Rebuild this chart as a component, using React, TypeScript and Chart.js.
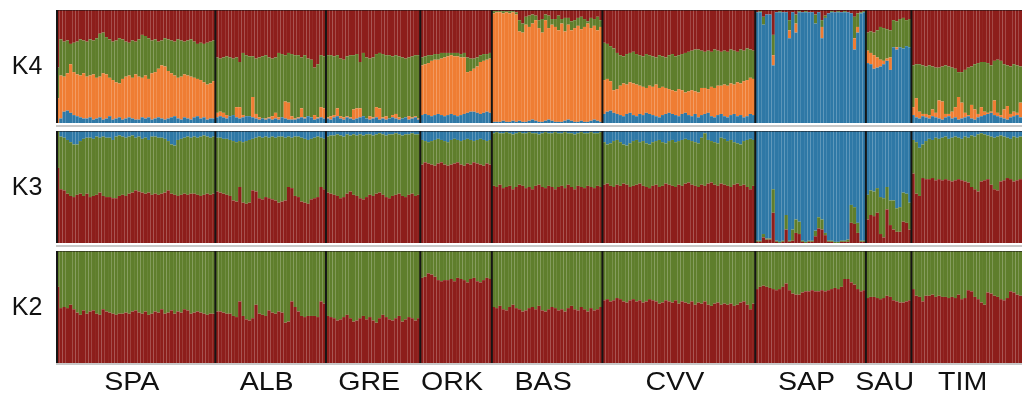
import React, { useEffect, useRef } from "react";
import { Chart, registerables } from "chart.js";

Chart.register(...registerables);

// ---------- categories ----------
const GROUPS = ["SPA", "ALB", "GRE", "ORK", "BAS", "CVV", "SAP", "SAU", "TIM"];
const GROUP_SIZES = [49, 34, 29, 22, 34, 47, 34, 14, 34];
const PANEL_LABELS = ["K4", "K3", "K2"];

// ---------- K2: red membership (%) ; green = remainder ----------
const K2_RED = [
  // SPA
  68, 49, 50, 49, 52, 48, 45, 43, 47, 44, 46, 47, 44, 43, 48, 46, 45, 44, 43, 44,
  44, 45, 44, 46, 47, 45, 44, 46, 43, 44, 46, 45, 48, 44, 45, 47, 44, 46, 45, 48,
  47, 44, 45, 46, 45, 44, 43, 44, 44,
  // ALB
  46, 46, 45, 44, 44, 42, 41, 55, 42, 39, 38, 40, 52, 44, 43, 42, 47, 45, 44, 46,
  45, 36, 37, 55, 50, 46, 42, 41, 42, 42, 42, 41, 55, 53,
  // GRE
  42, 41, 40, 38, 39, 41, 43, 40, 37, 38, 40, 42, 39, 41, 38, 36, 40, 43, 41, 39,
  38, 40, 42, 37, 39, 41, 40, 38, 40,
  // ORK
  76, 77, 80, 79, 77, 74, 73, 74, 74, 75, 73, 76, 75, 74, 72, 75, 76, 73, 72, 74,
  76, 75,
  // BAS
  50, 49, 51, 48, 47, 50, 52, 49, 48, 46, 47, 49, 50, 48, 51, 47, 46, 48, 50, 49,
  47, 48, 46, 49, 51, 48, 47, 50, 48, 46, 49, 47, 48, 50,
  // CVV
  56, 57, 55, 56, 58, 57, 55, 54, 56, 57, 55, 56, 54, 55, 57, 56, 55, 53, 54, 56,
  55, 54, 56, 53, 55, 54, 53, 55, 52, 54, 53, 55, 52, 51, 53, 54, 52, 53, 52, 53,
  51, 52, 54, 55, 52, 48, 53,
  // SAP
  66, 68, 69, 68, 67, 66, 65, 66, 68, 71, 65, 62, 61, 61, 63, 64, 64, 65, 64, 64,
  65, 64, 65, 66, 67, 66, 68, 75, 75, 72, 70, 66, 64, 65,
  // SAU
  58, 59, 59, 58, 57, 58, 60, 59, 56, 55, 54, 54, 55, 56,
  // TIM
  66, 60, 59, 55, 60, 60, 61, 59, 60, 59, 59, 58, 59, 58, 61, 57, 58, 65, 64, 59,
  57, 54, 52, 63, 62, 60, 59, 57, 56, 58, 64, 63, 61, 60,
];

// ---------- K3: red and blue membership (%) ; green = remainder ----------
const K3_RED = [
  // SPA
  67, 48, 47, 44, 42, 41, 43, 44, 42, 44, 41, 42, 43, 45, 42, 41, 41, 40, 40, 42,
  43, 42, 44, 45, 47, 46, 45, 44, 45, 43, 44, 43, 44, 45, 47, 44, 43, 42, 43, 44,
  43, 44, 44, 43, 42, 43, 44, 43, 44,
  // ALB
  46, 45, 44, 43, 42, 38, 37, 50, 36, 35, 36, 47, 46, 40, 39, 41, 40, 39, 38, 36,
  37, 38, 50, 49, 42, 41, 37, 36, 35, 39, 40, 41, 50, 48,
  // GRE
  45, 44, 43, 42, 40, 41, 44, 46, 43, 42, 40, 39, 41, 43, 42, 44, 45, 43, 41, 40,
  42, 43, 44, 42, 41, 43, 44, 42, 43,
  // ORK
  70, 72, 71, 70, 69, 71, 72, 70, 69, 70, 71, 72, 70, 69, 71, 70, 72, 71, 70, 69,
  71, 70,
  // BAS
  51, 50, 52, 49, 50, 51, 48, 50, 52, 51, 49, 50, 48, 51, 52, 50, 49, 51, 50, 48,
  50, 51, 49, 52, 50, 48, 51, 50, 49, 51, 50, 49, 51, 50,
  // CVV
  52, 53, 51, 50, 52, 51, 53, 52, 50, 51, 52, 53, 51, 50, 49, 51, 52, 50, 51, 53,
  52, 51, 50, 52, 51, 53, 54, 52, 51, 50, 52, 51, 53, 54, 52, 51, 53, 52, 51, 50,
  52, 53, 51, 52, 50, 48, 51,
  // SAP
  1, 1, 5, 3, 3, 27, 1, 0, 1, 12, 1, 2, 9, 8, 1, 0, 1, 1, 6, 13,
  12, 7, 1, 1, 0, 0, 1, 1, 1, 18, 17, 9, 1, 1,
  // SAU
  21, 25, 24, 27, 8, 5, 30, 16, 12, 10, 10, 19, 18, 12,
  // TIM
  62, 44, 42, 58, 57, 57, 58, 56, 57, 56, 57, 56, 55, 56, 57, 56, 55, 54, 50, 48,
  46, 55, 56, 57, 52, 48, 47, 55, 56, 58, 57, 55, 56, 57,
];

const K3_BLUE = [
  // SPA
  0, 5, 6, 8, 10, 12, 12, 9, 7, 6, 6, 7, 5, 6, 5, 6, 6, 8, 5, 4,
  5, 6, 5, 4, 6, 5, 7, 6, 8, 5, 5, 6, 6, 7, 9, 12, 13, 8, 7, 6,
  5, 6, 5, 6, 5, 4, 5, 6, 5,
  // ALB
  6, 6, 7, 7, 8, 9, 10, 9, 10, 9, 8, 7, 6, 5, 6, 5, 6, 5, 6, 5,
  5, 6, 5, 6, 5, 5, 6, 7, 8, 7, 6, 5, 6, 7,
  // GRE
  5, 4, 4, 3, 4, 5, 3, 4, 3, 4, 3, 4, 3, 3, 4, 3, 2, 3, 4, 3,
  3, 2, 3, 4, 3, 3, 2, 3, 3,
  // ORK
  8, 9, 10, 9, 8, 7, 8, 9, 10, 8, 7, 8, 9, 8, 7, 8, 9, 8, 7, 8,
  9, 8,
  // BAS
  2, 1, 2, 2, 1, 2, 3, 2, 1, 2, 2, 1, 2, 2, 3, 2, 1, 2, 2, 1,
  2, 2, 1, 2, 2, 3, 2, 1, 2, 2, 1, 2, 2, 1,
  // CVV
  10, 12, 11, 9, 8, 10, 12, 13, 11, 9, 8, 10, 9, 11, 12, 10, 9, 8, 10, 11,
  9, 8, 10, 9, 8, 7, 8, 9, 10, 11, 6, 2, 8, 9, 10, 11, 6, 7, 9, 8,
  10, 11, 12, 9, 8, 7, 8,
  // SAP
  98, 98, 92, 96, 96, 52, 98, 99, 98, 75, 98, 88, 79, 81, 98, 99, 98, 98, 89, 77,
  79, 91, 98, 98, 99, 99, 98, 98, 97, 66, 68, 82, 98, 98,
  // SAU
  57, 53, 54, 51, 59, 60, 50, 62, 62, 69, 68, 55, 56, 64,
  // TIM
  8, 10, 15, 12, 9, 7, 8, 6, 7, 6, 5, 7, 6, 5, 6, 7, 5, 6, 4, 5,
  3, 2, 3, 4, 5, 6, 5, 4, 5, 6, 7, 5, 6, 5,
];

// ---------- K4: blue membership and upper edges of orange / green clusters (% from bottom) ; red = top remainder ----------
const K4_BLUE = [
  // SPA
  0, 4, 10, 11, 9, 7, 6, 5, 4, 4, 5, 3, 4, 5, 3, 4, 6, 3, 4, 5,
  3, 4, 5, 4, 3, 3, 5, 4, 5, 3, 4, 5, 4, 3, 4, 5, 6, 4, 3, 5,
  4, 3, 5, 6, 4, 5, 3, 4, 4,
  // ALB
  5, 6, 5, 4, 6, 7, 5, 4, 5, 6, 6, 5, 4, 3, 4, 3, 4, 3, 4, 3,
  5, 4, 3, 3, 3, 4, 5, 4, 6, 5, 3, 4, 5, 4,
  // GRE
  4, 3, 5, 6, 4, 3, 5, 4, 3, 4, 5, 6, 4, 3, 4, 5, 3, 4, 3, 4,
  5, 4, 3, 4, 5, 3, 4, 5, 3,
  // ORK
  7, 8, 7, 6, 7, 8, 7, 6, 7, 8, 7, 6, 7, 8, 9, 10, 10, 9, 8, 9,
  10, 9,
  // BAS
  1, 1, 1, 2, 1, 1, 2, 1, 2, 1, 1, 2, 3, 2, 1, 1, 2, 3, 2, 1,
  1, 1, 2, 3, 2, 1, 1, 2, 1, 1, 2, 3, 2, 1,
  // CVV
  8, 10, 11, 9, 8, 7, 6, 8, 9, 7, 6, 8, 7, 9, 8, 7, 6, 5, 7, 8,
  9, 8, 7, 6, 8, 9, 7, 6, 8, 5, 7, 8, 9, 6, 5, 7, 8, 6, 5, 7,
  8, 6, 7, 5, 6, 8, 7,
  // SAP
  98, 98, 87, 96, 96, 51, 98, 98, 98, 98, 75, 98, 80, 98, 98, 98, 98, 98, 88, 98,
  75, 93, 97, 98, 98, 98, 98, 98, 98, 97, 65, 80, 97, 98,
  // SAU
  53, 52, 48, 49, 50, 52, 55, 47, 67, 65, 67, 66, 68, 67,
  // TIM
  7, 5, 4, 6, 5, 4, 6, 5, 4, 3, 5, 6, 4, 5, 3, 4, 5, 6, 4, 3,
  5, 6, 7, 8, 9, 7, 6, 5, 4, 3, 5, 6, 7, 5,
];

const K4_TOP_ORANGE = [
  // SPA
  22, 42, 41, 44, 52, 45, 43, 42, 44, 41, 42, 43, 40, 41, 44, 43, 40, 38, 36, 35,
  39, 41, 42, 40, 43, 41, 40, 42, 39, 44, 45, 48, 51, 50, 46, 44, 42, 40, 41, 43,
  42, 41, 40, 39, 38, 36, 34, 35, 37,
  // ALB
  9, 10, 9, 7, 6, 7, 14, 14, 7, 6, 5, 23, 8, 5, 4, 4, 5, 6, 9, 5,
  5, 19, 18, 6, 4, 5, 13, 5, 6, 5, 7, 5, 14, 13,
  // GRE
  5, 6, 7, 13, 6, 5, 6, 5, 12, 13, 13, 6, 4, 6, 5, 14, 13, 5, 6, 4,
  7, 8, 5, 4, 5, 6, 5, 6, 4,
  // ORK
  51, 52, 53, 55, 56, 56, 57, 58, 59, 60, 59, 59, 58, 58, 45, 46, 48, 50, 54, 55,
  56, 57,
  // BAS
  97, 98, 98, 97, 98, 97, 98, 96, 81, 80, 87, 85, 88, 91, 84, 80, 91, 84, 87, 85,
  82, 88, 81, 87, 82, 84, 86, 83, 85, 88, 84, 86, 82, 85,
  // CVV
  38, 39, 37, 29, 30, 33, 35, 34, 36, 35, 34, 33, 32, 31, 33, 32, 34, 31, 32, 31,
  30, 29, 28, 30, 29, 27, 28, 29, 28, 27, 31, 31, 30, 32, 31, 33, 33, 34, 33, 35,
  34, 36, 35, 37, 38, 40, 39,
  // SAP
  98, 98, 87, 96, 96, 60, 98, 98, 98, 98, 82, 98, 88, 98, 98, 98, 98, 98, 88, 98,
  85, 93, 97, 98, 98, 98, 98, 98, 98, 97, 75, 85, 97, 98,
  // SAU
  64, 62, 60, 58, 56, 55, 57, 58, 67, 67, 67, 66, 68, 67,
  // TIM
  14, 22, 10, 8, 8, 7, 12, 9, 20, 19, 8, 8, 10, 14, 23, 18, 9, 7, 16, 12,
  8, 14, 10, 9, 10, 20, 9, 7, 12, 15, 8, 10, 9, 18,
];

const K4_TOP_GREEN = [
  // SPA
  49, 74, 72, 73, 70, 71, 72, 74, 73, 72, 74, 73, 75, 79, 80, 76, 74, 72, 73, 75,
  74, 72, 71, 73, 72, 74, 78, 77, 75, 73, 74, 72, 73, 75, 74, 73, 72, 74, 73, 72,
  73, 74, 72, 70, 71, 70, 71, 72, 73,
  // ALB
  58, 57, 58, 59, 58, 57, 58, 54, 62, 60, 58, 59, 57, 58, 59, 60, 58, 57, 58, 62,
  61, 60, 62, 61, 60, 60, 58, 60, 57, 56, 49, 52, 60, 59,
  // GRE
  60, 60, 59, 60, 57, 56, 59, 60, 60, 61, 54, 62, 58, 57, 58, 61, 62, 61, 60, 60,
  59, 60, 59, 58, 57, 58, 59, 60, 60,
  // ORK
  58, 59, 60, 60, 61, 61, 62, 62, 62, 62, 62, 62, 61, 62, 58, 57, 57, 58, 60, 61,
  61, 62,
  // BAS
  99, 99, 99, 99, 99, 99, 99, 98, 91, 88, 94, 95, 96, 95, 91, 92, 96, 95, 92, 92,
  95, 92, 93, 93, 90, 91, 93, 94, 92, 90, 93, 92, 94, 91,
  // CVV
  71, 70, 68, 66, 62, 60, 59, 61, 62, 63, 61, 60, 59, 61, 60, 59, 58, 60, 59, 58,
  60, 61, 59, 60, 61, 62, 63, 64, 65, 65, 64, 63, 64, 63, 65, 64, 63, 64, 63, 65,
  64, 63, 65, 64, 66, 65, 64,
  // SAP
  98, 99, 94, 96, 96, 78, 98, 99, 98, 98, 91, 98, 96, 99, 98, 99, 98, 98, 96, 98,
  91, 95, 97, 99, 98, 99, 98, 99, 98, 97, 94, 97, 98, 99,
  // SAU
  80, 81, 80, 82, 85, 84, 83, 82, 91, 90, 92, 93, 91, 92,
  // TIM
  51, 52, 52, 51, 50, 51, 50, 49, 49, 50, 51, 50, 49, 48, 45, 45, 47, 49, 50, 52,
  53, 54, 54, 53, 51, 55, 56, 55, 52, 51, 50, 52, 51, 50,
];

// ---------- styles ----------
const RED = "#8d1e1b";
const GREEN = "#5f7e2c";
const ORANGE = "#ef7d33";
const BLUE = "#2e78a6";
const FONT = '"Liberation Sans", Arial, Helvetica, sans-serif';

const N = GROUP_SIZES.reduce((a, b) => a + b, 0);
const INDIVIDUALS = Array.from({ length: N }, (_, i) => String(i + 1));

const sub = (a: number[], b: number[]) => a.map((v, i) => v - b[i]);
const rest = (...arrs: number[][]) =>
  arrs[0].map((_, i) => 100 - arrs.reduce((s, a) => s + a[i], 0));

const ds = (label: string, data: number[], color: string) => ({
  label,
  data,
  backgroundColor: color,
  borderWidth: 0,
  barPercentage: 1,
  categoryPercentage: 1,
  inflateAmount: 0,
});

const PANELS = [
  {
    label: PANEL_LABELS[0],
    top: 0,
    height: 130,
    padding: { top: 10, bottom: 7, left: 56, right: 0 },
    gap: 2,
    groups: false,
    datasets: [
      ds("blue", K4_BLUE, BLUE),
      ds("orange", sub(K4_TOP_ORANGE, K4_BLUE), ORANGE),
      ds("green", sub(K4_TOP_GREEN, K4_TOP_ORANGE), GREEN),
      ds("red", rest(K4_TOP_GREEN), RED),
    ],
  },
  {
    label: PANEL_LABELS[1],
    top: 128,
    height: 122,
    padding: { top: 3, bottom: 7, left: 56, right: 0 },
    gap: 2,
    groups: false,
    datasets: [
      ds("red", K3_RED, RED),
      ds("green", rest(K3_RED, K3_BLUE), GREEN),
      ds("blue", K3_BLUE, BLUE),
    ],
  },
  {
    label: PANEL_LABELS[2],
    top: 248,
    height: 147,
    padding: { top: 3, bottom: 32, left: 56, right: 0 },
    gap: 0,
    groups: true,
    datasets: [ds("red", K2_RED, RED), ds("green", rest(K2_RED), GREEN)],
  },
];

const decor = {
  id: "decor",
  afterDatasetsDraw(chart: any, _args: any, opts: any) {
    const { ctx, chartArea: a } = chart;
    const x = chart.scales.x;
    ctx.save();
    // top frame line
    ctx.fillStyle = "rgba(25,20,20,0.55)";
    ctx.fillRect(a.left, a.top, a.right - a.left, 1);
    // group separators
    ctx.strokeStyle = "#151515";
    ctx.lineWidth = 2;
    let start = 0;
    const bounds = [0];
    GROUP_SIZES.forEach((s) => {
      start += s;
      bounds.push(start);
    });
    bounds.forEach((b) => {
      if (b >= N) return;
      const px =
        b === 0
          ? a.left + 1
          : (x.getPixelForValue(b - 1) + x.getPixelForValue(b)) / 2;
      ctx.beginPath();
      ctx.moveTo(px, a.top);
      ctx.lineTo(px, a.bottom);
      ctx.stroke();
    });
    // light grey rule under the panel
    ctx.fillStyle = "#c8c8c8";
    ctx.fillRect(a.left, a.bottom + opts.gap, a.right - a.left, 2);
    // panel label
    ctx.fillStyle = "#111";
    ctx.font = `25px ${FONT}`;
    ctx.textAlign = "center";
    ctx.textBaseline = "middle";
    ctx.fillText(opts.label, 27, (a.top + a.bottom) / 2 + 1);
    // group labels
    if (opts.groups) {
      ctx.font = `26px ${FONT}`;
      let s = 0;
      GROUPS.forEach((g, gi) => {
        const first = s;
        const last = s + GROUP_SIZES[gi] - 1;
        s += GROUP_SIZES[gi];
        const cx = (x.getPixelForValue(first) + x.getPixelForValue(last)) / 2 - 4;
        const cy = a.bottom + 20;
        ctx.save();
        ctx.translate(cx, cy);
        ctx.scale(1.1, 1);
        ctx.fillText(g, 0, 0);
        ctx.restore();
      });
    }
    ctx.restore();
  },
};

function Panel({ cfg }: { cfg: (typeof PANELS)[number] }) {
  const ref = useRef<HTMLCanvasElement | null>(null);
  useEffect(() => {
    if (!ref.current) return;
    const chart = new Chart(ref.current, {
      type: "bar",
      data: { labels: INDIVIDUALS, datasets: cfg.datasets as any },
      options: {
        responsive: false,
        animation: false,
        events: [],
        layout: { padding: cfg.padding },
        plugins: {
          legend: { display: false },
          tooltip: { enabled: false },
          decor: { label: cfg.label, gap: cfg.gap, groups: cfg.groups },
        } as any,
        scales: {
          x: { stacked: true, display: false },
          y: { stacked: true, display: false, min: 0, max: 100 },
        },
      },
      plugins: [decor as any],
    });
    return () => chart.destroy();
  }, [cfg]);
  return (
    <canvas
      ref={ref}
      width={1022}
      height={cfg.height}
      style={{ position: "absolute", left: 0, top: cfg.top, width: 1022, height: cfg.height }}
    />
  );
}

export default function App() {
  return (
    <div
      style={{
        position: "absolute",
        left: 0,
        top: 0,
        width: 1022,
        height: 395,
        background: "#fff",
        overflow: "hidden",
      }}
    >
      {PANELS.map((p) => (
        <Panel key={p.label} cfg={p} />
      ))}
    </div>
  );
}
